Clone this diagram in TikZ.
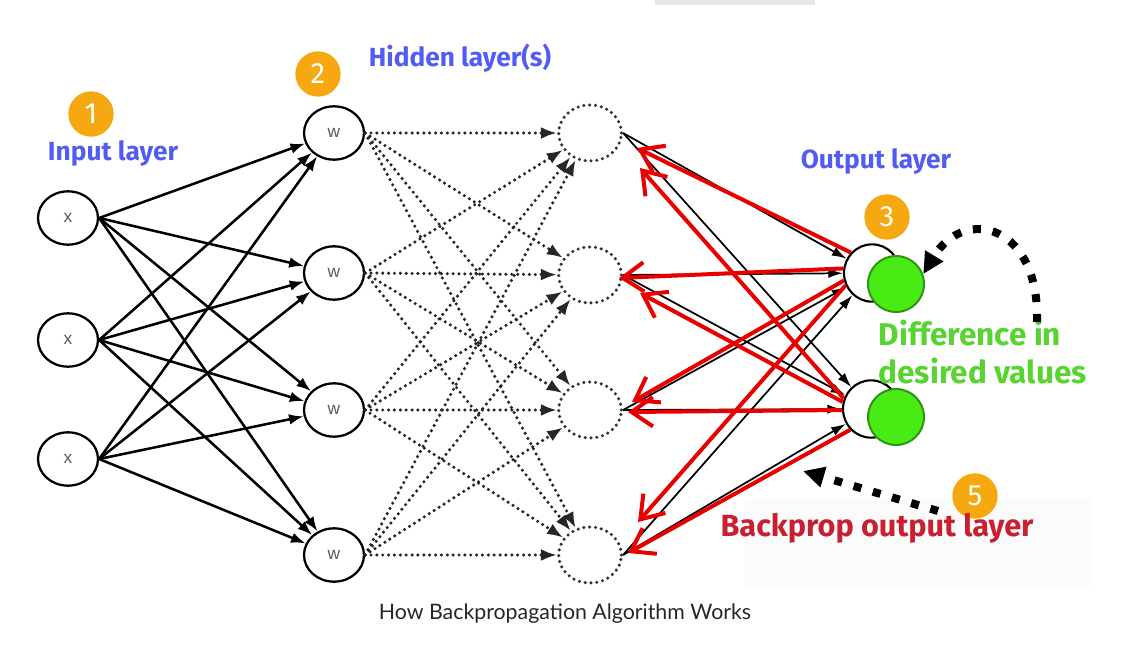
\documentclass[tikz,border=0pt]{standalone}
\usepackage{fontspec}
\setmainfont{Liberation Sans}
\newfontfamily\labelfont{Fira Sans}
\newfontfamily\captionfont{Lato}
\usetikzlibrary{positioning, arrows.meta, shapes.geometric, calc}

\definecolor{layerblue}{RGB}{82,92,245}
\definecolor{diffgreen}{RGB}{88,212,48}
\definecolor{backred}{RGB}{200,32,48}
\definecolor{arrowred}{RGB}{232,0,0}
\definecolor{badgeorange}{RGB}{246,168,16}
\definecolor{errfill}{RGB}{72,236,20}
\definecolor{errline}{RGB}{46,150,20}

\begin{document}
\begin{tikzpicture}[
  x=0.75pt, y=-0.75pt,
  neuron/.style={
    ellipse, draw=black,
    line width=1.7pt,
    minimum width=45pt,
    minimum height=40pt,
    inner sep=0pt,
    text=black!65,
    font=\fontsize{13}{13}\selectfont
  },
  hidden/.style={
    ellipse, draw=black!80,
    line width=2.6pt,
    dash pattern=on 0pt off 4.4pt,
    line cap=round,
    minimum width=47pt,
    minimum height=42pt
  },
  outnode/.style={
    ellipse, draw=black, fill=white,
    line width=1.6pt,
    minimum width=42pt,
    minimum height=43pt
  },
  errnode/.style={
    circle, draw=errline, fill=errfill,
    line width=1.5pt,
    minimum size=42pt
  },
  badge/.style={
    circle, fill=badgeorange, text=white,
    minimum size=34pt, inner sep=0pt,
    font=\labelfont\fontsize{22}{22}\selectfont
  },
  layerlabel/.style={
    text=layerblue,
    font=\labelfont\bfseries\fontsize{19.7}{19.7}\selectfont
  },
  fwd/.style={
    -{Latex[length=11pt,width=8pt]},
    line width=1.9pt
  },
  fwddot/.style={
    -{Latex[length=12pt,width=9pt]},
    draw=black!85,
    line width=2.6pt,
    dash pattern=on 0pt off 4.4pt,
    line cap=round
  },
  fwdthin/.style={
    -{Latex[length=11pt,width=7pt]},
    line width=1.3pt
  },
  back/.style={
    -{Straight Barb[length=16pt,width=22pt]},
    draw=arrowred,
    line width=3pt
  },
  hint/.style={
    -{Triangle[length=16pt,width=15pt]},
    line width=6pt,
    dash pattern=on 6pt off 9pt
  }
]

\useasboundingbox (0,0) rectangle (1130,645);
\fill[black!9] (655,0) rectangle (815,5);
\fill[black!1.5] (745,499) rectangle (1091,586);

% input layer
\node[neuron] (x1) at (68,218) {x};
\node[neuron] (x2) at (68,340) {x};
\node[neuron] (x3) at (68,459) {x};

% first hidden layer
\node[neuron] (w1) at (334,133) {w};
\node[neuron] (w2) at (334,273) {w};
\node[neuron] (w3) at (334,410) {w};
\node[neuron] (w4) at (334,555) {w};

% second hidden layer
\node[hidden] (h1) at (590,133) {};
\node[hidden] (h2) at (590,275) {};
\node[hidden] (h3) at (590,410) {};
\node[hidden] (h4) at (590,555) {};

% output layer
\node[outnode] (o1) at (872,273) {};
\node[outnode] (o2) at (871,409) {};
\node[errnode] (e1) at (896,284) {};
\node[errnode] (e2) at (896,417) {};

\node[badge] (b1) at (91,114)  {1};
\node[badge] (b2) at (318,74)  {2};
\node[badge] (b3) at (887,217) {3};
\node[badge] (b5) at (975,496) {5};

\node[layerlabel] (inlabel)  at (113,153) {Input layer};
\node[layerlabel] (hidlabel) at (460,58)  {Hidden layer(s)};
\node[layerlabel] (outlabel) at (876,161) {Output layer};

\node[text=diffgreen, font=\labelfont\bfseries\fontsize{23.6}{29}\selectfont,
      align=left, anchor=west] (difflabel) at (874,352) {Difference in\\desired values};
\node[text=backred, font=\labelfont\bfseries\fontsize{23}{23}\selectfont]
      (backlabel) at (877,528) {Backprop output layer};
\node[text=black!85, font=\captionfont\fontsize{16}{16}\selectfont]
      (caption) at (565,614) {How Backpropagation Algorithm Works};

% input -> first hidden
\draw[fwd] (x1.east) -- (w1);
\draw[fwd] (x1.east) -- (w2);
\draw[fwd] (x1.east) -- (w3);
\draw[fwd] (x1.east) -- (w4);
\draw[fwd] (x2.east) -- (w1);
\draw[fwd] (x2.east) -- (w2);
\draw[fwd] (x2.east) -- (w3);
\draw[fwd] (x2.east) -- (w4);
\draw[fwd] (x3.east) -- (w1);
\draw[fwd] (x3.east) -- (w2);
\draw[fwd] (x3.east) -- (w3);
\draw[fwd] (x3.east) -- (w4);

% first hidden -> second hidden
\draw[fwddot] (w1.east) -- (h1);
\draw[fwddot] (w1.east) -- (h2);
\draw[fwddot] (w1.east) -- (h3);
\draw[fwddot] (w1.east) -- (h4);
\draw[fwddot] (w2.east) -- (h1);
\draw[fwddot] (w2.east) -- (h2);
\draw[fwddot] (w2.east) -- (h3);
\draw[fwddot] (w2.east) -- (h4);
\draw[fwddot] (w3.east) -- (h1);
\draw[fwddot] (w3.east) -- (h2);
\draw[fwddot] (w3.east) -- (h3);
\draw[fwddot] (w3.east) -- (h4);
\draw[fwddot] (w4.east) -- (h1);
\draw[fwddot] (w4.east) -- (h2);
\draw[fwddot] (w4.east) -- (h3);
\draw[fwddot] (w4.east) -- (h4);

% second hidden -> output
\draw[fwdthin] (h1.east) -- (o1);
\draw[fwdthin] (h1.east) -- (o2);
\draw[fwdthin] (h2.east) -- (o1);
\draw[fwdthin] (h2.east) -- (o2);
\draw[fwdthin] (h3.east) -- (o1);
\draw[fwdthin] (h3.east) -- (o2);
\draw[fwdthin] (h4.east) -- (o1);
\draw[fwdthin] (h4.east) -- (o2);

% error sent back
\draw[back] (o1.136) -- ($(h1)+(47,15)$);
\draw[back] (o1.171) -- ($(h2)+(29,3)$);
\draw[back] (o1.195) -- ($(h3)+(42,-8)$);
\draw[back] (o1.205) -- ($(h4)+(48,-33)$);
\draw[back] (o2.159) -- ($(h1)+(50,35)$);
\draw[back] (o2.166) -- ($(h2)+(50,18)$);
\draw[back] (o2.182) -- ($(h3)+(38,2)$);
\draw[back] (o2.225) -- ($(h4)+(38,-2)$);

\coordinate (diffstart) at (1037,322);
\coordinate (backstart) at (938,511);
\coordinate (backtip)   at (803,471);
\draw[hint] (diffstart) .. controls (1040,225) and (965,205) .. (e1.20);
\draw[hint] (backstart) -- (backtip);

\end{tikzpicture}
\end{document}
